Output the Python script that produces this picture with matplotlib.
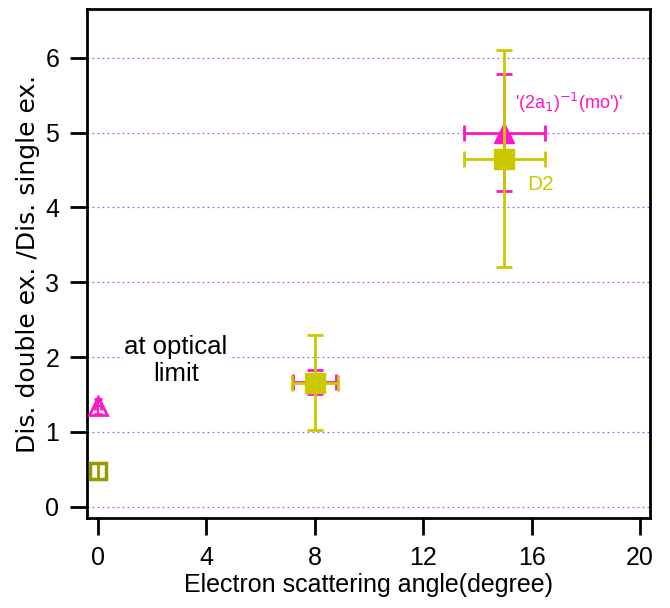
import matplotlib
matplotlib.use("Agg")
import matplotlib.pyplot as plt

plt.rcParams['font.family'] = ['Liberation Sans', 'DejaVu Sans']

# data
mo_x = [8, 15]
mo_y = [1.67, 5.0]
mo_xerr = [0.8, 1.5]
mo_yerr = [0.16, 0.78]

d2_x = [8, 15]
d2_y = [1.66, 4.65]
d2_xerr = [0.85, 1.5]
d2_yerr = [0.64, 1.45]

opt_mo_x = [0]
opt_mo_y = [1.34]
opt_mo_xerr = [0.12]
opt_mo_yerr = [0.1]

opt_d2_x = [0]
opt_d2_y = [0.48]
opt_d2_yerr = [0.1]

xticks = [0, 4, 8, 12, 16, 20]
yticks = [0, 1, 2, 3, 4, 5, 6]

MAG = '#FF14C8'
YEL = '#CCC800'
OLV = '#9C9800'

fig = plt.figure(figsize=(6.70, 6.08), dpi=100)
ax = fig.add_axes([87/670, 1-518/608, (650-87)/670, (518-9)/608])

for y in yticks:
    ax.axhline(y, color='#7878FF', lw=0.9, ls=(0, (1.5, 2.5)), zorder=0)

ax.errorbar(mo_x, mo_y, xerr=mo_xerr, yerr=mo_yerr, fmt='^', color=MAG,
            ms=14, capsize=6, elinewidth=2, capthick=2, zorder=3)
ax.errorbar(d2_x, d2_y, xerr=d2_xerr, yerr=d2_yerr, fmt='s', color=YEL,
            ms=14, capsize=6, elinewidth=2, capthick=2, zorder=4)
ax.errorbar(opt_mo_x, opt_mo_y, xerr=opt_mo_xerr, yerr=opt_mo_yerr, fmt='^',
            color=MAG, mfc='none', mew=2, ms=13, capsize=3, elinewidth=1.5,
            capthick=1.5, zorder=3, clip_on=False)
ax.errorbar(opt_d2_x, opt_d2_y, yerr=opt_d2_yerr, fmt='s',
            color=OLV, mfc='none', mew=2.5, ms=12, capsize=0, elinewidth=2,
            zorder=3, clip_on=False)

ax.set_xlim(-0.4, 20.37)
ax.set_ylim(-0.15, 6.65)
ax.set_xticks(xticks)
ax.set_yticks(yticks)
ax.tick_params(direction='out', length=12, width=2, labelsize=18, pad=8)
for s in ax.spines.values():
    s.set_linewidth(2)

ax.set_xlabel('Electron scattering angle(degree)', fontsize=18, labelpad=2)
ax.set_ylabel('Dis. double ex. /Dis. single ex.', fontsize=18,
              family=['DejaVu Sans'], labelpad=4)

ax.text(2.88, 1.95, 'at optical\nlimit', fontsize=18.5, ha='center', va='center',
        linespacing=1.15, bbox=dict(facecolor='white', edgecolor='none', pad=1),
        zorder=2)
ax.text(15.39, 5.4, "'(2a$_1$)$^{-1}$(mo')'", color=MAG, fontsize=13,
        ha='left', va='center')
ax.text(15.83, 4.3, 'D2', color=YEL, fontsize=15, ha='left', va='center')

fig.savefig('out.png', dpi=100)
